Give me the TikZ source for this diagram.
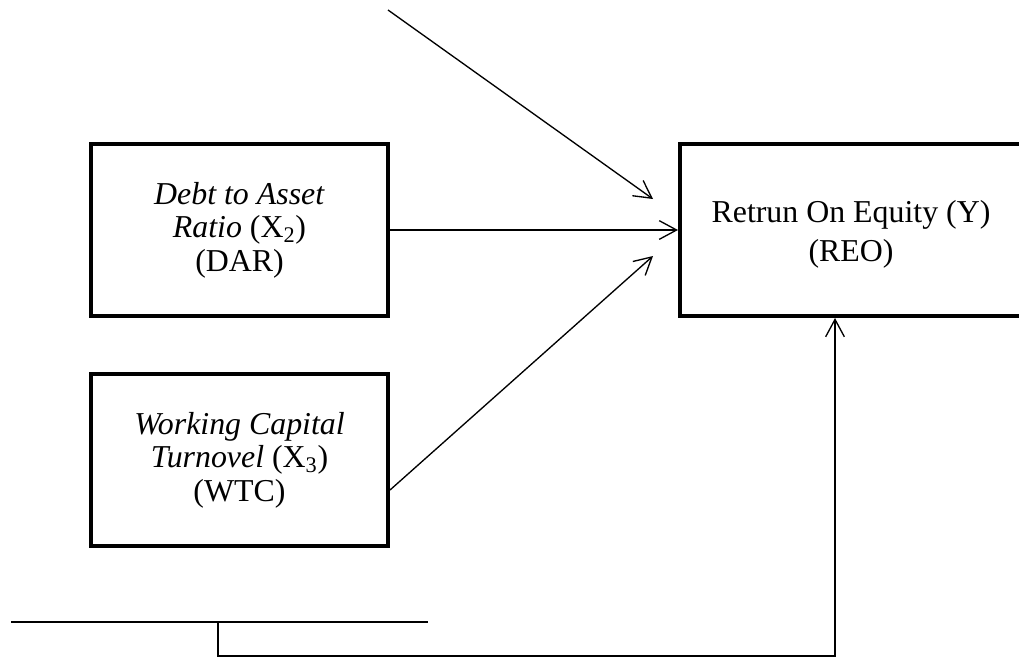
\documentclass[tikz,border=0pt]{standalone}
\usepackage{fontspec}
\setmainfont{Liberation Serif}
\usetikzlibrary{arrows.meta}
\begin{document}
\begin{tikzpicture}[x=0.75pt,y=-0.75pt,
  thinline/.style={line width=1pt},
  arr/.style={thinline,-{Straight Barb[length=13pt,width=14pt,line width=1pt]}},
  varbox/.style={draw,line width=3pt,align=center,inner sep=0pt,
    minimum width=222.75pt,minimum height=129pt,
    font=\fontsize{23.9}{25.2}\selectfont},
  outbox/.style={draw,line width=3pt,inner sep=0pt,
    minimum width=258pt,minimum height=129pt},
  outtext/.style={align=center,inner sep=0pt,
    font=\fontsize{23.9}{29}\selectfont}]
\useasboundingbox (0,0) rectangle (1019,658);
\clip (0,0) rectangle (1019,658);

% variable boxes
\node[varbox] (dar) at (239.5,230) {\textit{Debt to Asset}\\\textit{Ratio} (X\textsubscript{2})\\(DAR)};
\node[varbox] (wtc) at (239.5,460) {\textit{Working Capital}\\\textit{Turnovel} (X\textsubscript{3})\\(WTC)};
\node[outbox] (reo) at (852,230) {};
\node[outtext] (reotext) at (851,234) {Retrun On Equity (Y)\\(REO)};

% loose ends of the connectors
\coordinate (topstart) at (388,10);
\coordinate (tip1) at (653,199);
\coordinate (tip3) at (653,256);
\coordinate (wtcout) at (390,490);
\coordinate (barL) at (11,622);
\coordinate (barR) at (428,622);
\coordinate (barM) at (218,622);
\coordinate (barD) at (218,656);
\coordinate (up) at (835,656);

% arrows into the outcome box
\draw[arr] (topstart) -- (tip1);
\draw[arr] (dar.east) -- (reo.west);
\draw[arr] (wtcout) -- (tip3);
\draw[thinline] (barL) -- (barR);
\draw[arr] (barM) -- (barD) -- (up) -- (up |- reo.south);
\end{tikzpicture}
\end{document}
